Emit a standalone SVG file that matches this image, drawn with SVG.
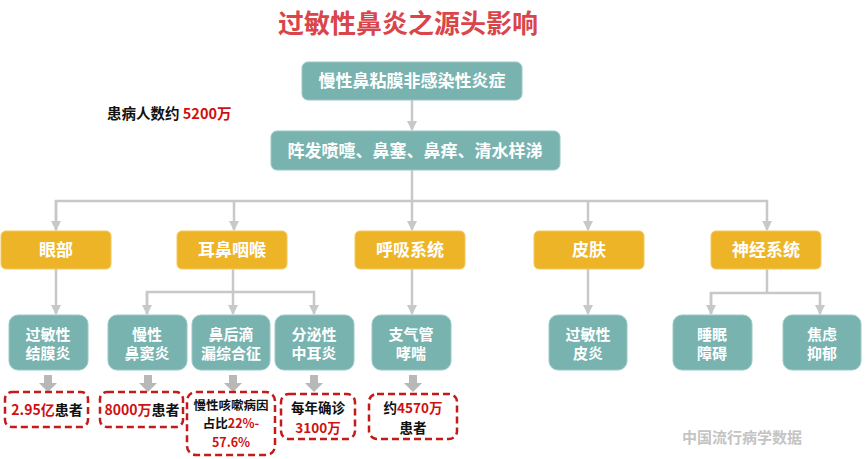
<svg xmlns="http://www.w3.org/2000/svg" width="865" height="459" viewBox="0 0 865 459">
<style>
text{font-family:"Noto Sans CJK SC","Noto Sans",sans-serif;font-weight:bold;}
.title{font-size:26px;fill:#d9454a;text-anchor:middle;}
.teal{fill:#78b3b0;stroke:#9cc8c6;stroke-width:1;}
.org{fill:#eeb428;stroke:#f3c85a;stroke-width:1;}
.wt{fill:#ffffff;text-anchor:middle;}
.big{font-size:17px;}
.mid{font-size:15px;}
.dash{fill:none;stroke:#c41a1a;stroke-width:2.5;stroke-dasharray:7 4;}
.bt{font-size:14px;fill:#111;text-anchor:middle;}
.b13{font-size:13.5px;}
.sm{font-size:12.5px;}
.r{fill:#d01010;}
.conn{fill:none;stroke:#c8c8c8;stroke-width:2.5;}
.blk{fill:#b8b8b8;}
</style>
<defs>
<marker id="ah" viewBox="0 0 10 10" refX="9" refY="5" markerWidth="4" markerHeight="4" orient="auto">
<path d="M0,0 L10,5 L0,10 z" fill="#c8c8c8"/>
</marker>
</defs>
<rect width="865" height="459" fill="#ffffff"/>
<text class="title" x="408" y="33">过敏性鼻炎之源头影响</text>

<g id="connectors">
<path class="conn" d="M412,100 V130" marker-end="url(#ah)"/>
<path class="conn" d="M412,170 V201"/>
<path class="conn" d="M56,230 V201 H767 V230" marker-end="url(#ah)"/>
<path class="conn" d="M56,201 V230" marker-end="url(#ah)"/>
<path class="conn" d="M234,201 V230" marker-end="url(#ah)"/>
<path class="conn" d="M412,201 V230" marker-end="url(#ah)"/>
<path class="conn" d="M588,201 V230" marker-end="url(#ah)"/>
<path class="conn" d="M56,269 V314" marker-end="url(#ah)"/>
<path class="conn" d="M233,269 V314" marker-end="url(#ah)"/>
<path class="conn" d="M147,314 V292 H314 V314" marker-end="url(#ah)"/>
<path class="conn" d="M147,292 V314" marker-end="url(#ah)"/>
<path class="conn" d="M412,269 V314" marker-end="url(#ah)"/>
<path class="conn" d="M588,269 V314" marker-end="url(#ah)"/>
<path class="conn" d="M767,269 V293"/>
<path class="conn" d="M711,314 V293 H820 V314" marker-end="url(#ah)"/>
<path class="conn" d="M711,293 V314" marker-end="url(#ah)"/>
<path class="blk" d="M44,375 h8 v8 h5 l-9,9 l-9,-9 h5 z"/>
<path class="blk" d="M144,375 h8 v8 h5 l-9,9 l-9,-9 h5 z"/>
<path class="blk" d="M229,375 h8 v8 h5 l-9,9 l-9,-9 h5 z"/>
<path class="blk" d="M310,375 h8 v8 h5 l-9,9 l-9,-9 h5 z"/>
<path class="blk" d="M409,375 h8 v8 h5 l-9,9 l-9,-9 h5 z"/>
</g>

<g id="n-root">
<rect class="teal" x="302" y="62" width="220" height="38" rx="6"/>
<text class="wt big" x="412" y="87">慢性鼻粘膜非感染性炎症</text>
</g>
<g id="n-symptoms">
<rect class="teal" x="271" y="131" width="289" height="39" rx="6"/>
<text class="wt big" x="415" y="157">阵发喷嚏、鼻塞、鼻痒、清水样涕</text>
</g>
<g id="n-count">
<text x="107" y="119" style="font-size:14.5px;fill:#111;">患病人数约 <tspan class="r">5200万</tspan></text>
</g>

<g id="n-eye"><rect class="org" x="1" y="231" width="110" height="38" rx="5"/><text class="wt big" x="56" y="256">眼部</text></g>
<g id="n-ent"><rect class="org" x="177" y="231" width="110" height="38" rx="5"/><text class="wt big" x="232" y="256">耳鼻咽喉</text></g>
<g id="n-resp"><rect class="org" x="355" y="231" width="110" height="38" rx="5"/><text class="wt big" x="410" y="256">呼吸系统</text></g>
<g id="n-skin"><rect class="org" x="534" y="231" width="110" height="38" rx="5"/><text class="wt big" x="589" y="256">皮肤</text></g>
<g id="n-neuro"><rect class="org" x="711" y="231" width="110" height="38" rx="5"/><text class="wt big" x="766" y="256">神经系统</text></g>

<g id="n-conj"><rect class="teal" x="9" y="315" width="79" height="55" rx="9"/><text class="wt mid" x="48" y="340">过敏性<tspan x="48" dy="19">结膜炎</tspan></text></g>
<g id="n-sinus"><rect class="teal" x="108" y="315" width="79" height="55" rx="9"/><text class="wt mid" x="147" y="340">慢性<tspan x="147" dy="19">鼻窦炎</tspan></text></g>
<g id="n-pnd"><rect class="teal" x="192" y="315" width="78" height="55" rx="9"/><text class="wt mid" x="231" y="340">鼻后滴<tspan x="231" dy="19">漏综合征</tspan></text></g>
<g id="n-otitis"><rect class="teal" x="275" y="315" width="79" height="55" rx="9"/><text class="wt mid" x="314" y="340">分泌性<tspan x="314" dy="19">中耳炎</tspan></text></g>
<g id="n-asthma"><rect class="teal" x="372" y="315" width="79" height="55" rx="9"/><text class="wt mid" x="411" y="340">支气管<tspan x="411" dy="19">哮喘</tspan></text></g>
<g id="n-derm"><rect class="teal" x="549" y="315" width="78" height="55" rx="9"/><text class="wt mid" x="588" y="340">过敏性<tspan x="588" dy="19">皮炎</tspan></text></g>
<g id="n-sleep"><rect class="teal" x="673" y="315" width="79" height="55" rx="9"/><text class="wt mid" x="712" y="340">睡眠<tspan x="712" dy="19">障碍</tspan></text></g>
<g id="n-anx"><rect class="teal" x="783" y="315" width="78" height="55" rx="9"/><text class="wt mid" x="822" y="340">焦虑<tspan x="822" dy="19">抑郁</tspan></text></g>

<g id="n-d1"><rect class="dash" x="5" y="392" width="83" height="35" rx="7"/><text class="bt" x="47" y="415"><tspan class="r">2.95亿</tspan>患者</text></g>
<g id="n-d2"><rect class="dash" x="100" y="392" width="83" height="35" rx="7"/><text class="bt" x="142" y="415"><tspan class="r">8000万</tspan>患者</text></g>
<g id="n-d3"><rect class="dash" x="187" y="392" width="88" height="63" rx="9"/><text class="bt sm" x="231" y="409.5">慢性咳嗽病因<tspan x="231" dy="18.5">占比</tspan><tspan class="r">22%-</tspan><tspan class="r" x="231" dy="18.5">57.6%</tspan></text></g>
<g id="n-d4"><rect class="dash" x="281" y="394" width="74" height="45" rx="8"/><text class="bt b13" x="318" y="413">每年确诊<tspan class="r" x="318" dy="19.5">3100万</tspan></text></g>
<g id="n-d5"><rect class="dash" x="369" y="394" width="88" height="45" rx="8"/><text class="bt b13" x="413" y="413">约<tspan class="r">4570万</tspan><tspan x="413" dy="19.5">患者</tspan></text></g>

<text x="742" y="443" style="font-size:15px;fill:#c4c4c4;text-anchor:middle;">中国流行病学数据</text>
</svg>
